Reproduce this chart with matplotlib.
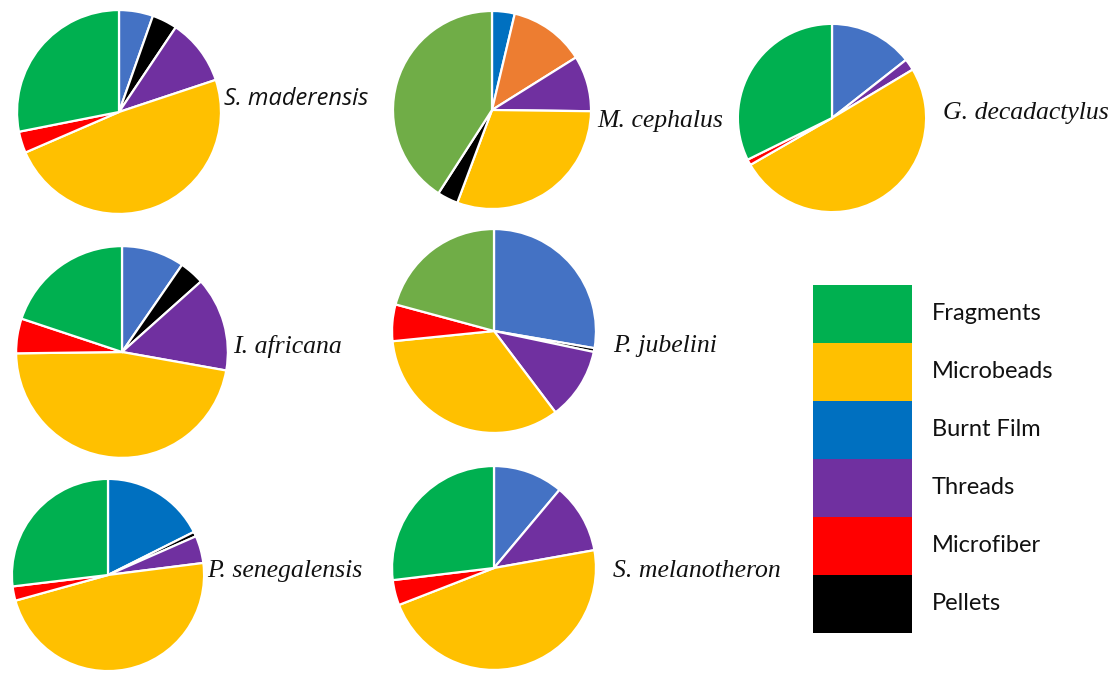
import matplotlib
matplotlib.use('Agg')
import matplotlib.pyplot as plt
from matplotlib.patches import Rectangle

# ── Colours ────────────────────────────────────────────────────────────────
GREEN = '#00B050'
LIGHT_GREEN = '#70AD47'
YELLOW = '#FFC000'
BLUE = '#0070C0'
STEEL_BLUE = '#4472C4'
PURPLE = '#7030A0'
RED = '#FF0000'
BLACK = '#000000'
ORANGE = '#ED7D31'

# ── Data (% of particles, clockwise from 12 o'clock) ───────────────────────
maderensis_vals = [5.4, 4.0, 10.5, 48.6, 3.4, 28.1]
maderensis_cols = [STEEL_BLUE, BLACK, PURPLE, YELLOW, RED, GREEN]

cephalus_vals = [3.7, 12.4, 9.1, 30.5, 3.4, 40.9]
cephalus_cols = [BLUE, ORANGE, PURPLE, YELLOW, BLACK, LIGHT_GREEN]

decadactylus_vals = [14.4, 2.0, 50.3, 1.0, 32.3]
decadactylus_cols = [STEEL_BLUE, PURPLE, YELLOW, RED, GREEN]

africana_vals = [9.6, 3.8, 14.4, 47.0, 5.3, 19.9]
africana_cols = [STEEL_BLUE, BLACK, PURPLE, YELLOW, RED, GREEN]

jubelini_vals = [27.7, 0.6, 11.4, 33.7, 5.8, 20.8]
jubelini_cols = [STEEL_BLUE, BLACK, PURPLE, YELLOW, RED, LIGHT_GREEN]

senegalensis_vals = [17.6, 0.8, 4.6, 47.7, 2.4, 26.9]
senegalensis_cols = [BLUE, BLACK, PURPLE, YELLOW, RED, GREEN]

melanotheron_vals = [11.1, 11.1, 46.9, 4.0, 26.9]
melanotheron_cols = [STEEL_BLUE, PURPLE, YELLOW, RED, GREEN]

legend_labels = ['Fragments', 'Microbeads', 'Burnt Film', 'Threads', 'Microfiber', 'Pellets']
legend_colors = [GREEN, YELLOW, BLUE, PURPLE, RED, BLACK]

W, H = 1115, 674
fig = plt.figure(figsize=(W / 100, H / 100), dpi=100)


def add_pie(vals, cols, cx, cy, r):
    # pixel centre / radius -> figure fraction axes
    ax = fig.add_axes([(cx - r) / W, 1 - (cy + r) / H, 2 * r / W, 2 * r / H])
    ax.pie(vals, colors=cols, startangle=90, counterclock=False, radius=1,
           wedgeprops=dict(edgecolor='white', linewidth=1.6))
    ax.set_xlim(-1.02, 1.02)
    ax.set_ylim(-1.02, 1.02)
    ax.set_aspect('equal')
    ax.axis('off')
    return ax


def label(x, y, s, family='Liberation Serif', size=18.5):
    fig.text(x / W, 1 - y / H, s, family=family, style='italic',
             fontsize=size, va='center', ha='left', color='#111')


add_pie(maderensis_vals, maderensis_cols, 119, 112, 104)
add_pie(cephalus_vals, cephalus_cols, 492, 110, 101)
add_pie(decadactylus_vals, decadactylus_cols, 832, 118, 96)
add_pie(africana_vals, africana_cols, 122, 352, 108)
add_pie(jubelini_vals, jubelini_cols, 494, 331, 104)
add_pie(senegalensis_vals, senegalensis_cols, 108, 575, 98)
add_pie(melanotheron_vals, melanotheron_cols, 494, 568, 104)

label(224, 99, 'S. maderensis', family='Open Sans', size=17)
label(597, 121, 'M. cephalus')
label(943, 113, 'G. decadactylus')
label(233, 346, 'I. africana')
label(613, 346, 'P. jubelini')
label(207, 571, 'P. senegalensis')
label(613, 571, 'S. melanotheron')

# ── Legend as stacked colour blocks ────────────────────────────────────────
lax = fig.add_axes([0, 0, 1, 1])
lax.set_xlim(0, W)
lax.set_ylim(H, 0)
lax.axis('off')
box_top, box_h = 285, 58
for i, (name, col) in enumerate(zip(legend_labels, legend_colors)):
    y0 = box_top + i * box_h
    lax.add_patch(Rectangle((813, y0), 99, box_h, facecolor=col, edgecolor='none'))
    lax.text(932, y0 + box_h / 2, name, family='Lato', fontsize=17,
             va='center', ha='left', color='#111')

fig.savefig('out.png', dpi=100)
